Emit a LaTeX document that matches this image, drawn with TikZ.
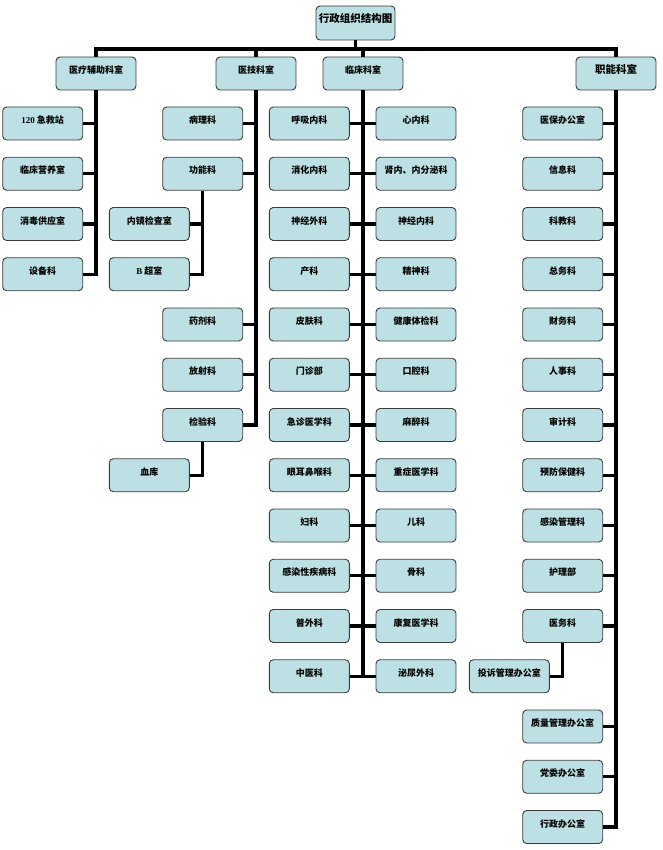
\documentclass[tikz,border=0pt]{standalone}
\usepackage{fontspec}
\setmainfont{Liberation Serif}
\newfontfamily\cjkfont{Noto Sans CJK SC}
\usetikzlibrary{positioning}
\definecolor{deptfill}{RGB}{188,224,227}
\definecolor{deptline}{RGB}{60,60,60}
\begin{document}
\begin{tikzpicture}[x=1pt, y=-1pt,
    every node/.style={font=\cjkfont\bfseries\fontsize{9}{10}\selectfont},
    dept/.style={rectangle, rounded corners=4pt, draw=deptline, line width=0.9pt, fill=deptfill,
      minimum width=80pt, minimum height=33pt, inner sep=1pt, text height=4pt, text depth=4pt, align=center},
    head/.style={dept, font=\cjkfont\bfseries\fontsize{10.5}{12}\selectfont},
    link/.style={line width=3.3pt}]
  \useasboundingbox (0,0) rectangle (662,850);

  \node[head, minimum width=79pt, minimum height=34pt] (title) at (355.5,23) {行政组织结构图};
  \node[dept] (aux) at (96,73.5) {医疗辅助科室};
  \node[dept] (tech) at (256,73.5) {医技科室};
  \node[dept] (clin) at (363,73.5) {临床科室};
  \node[head] (func) at (616,73.5) {职能科室};

  \coordinate (bar) at (0,49);
  \draw[link] (title.south) -- (title.south |- bar);
  \draw[link] (aux.north) |- (func.north |- bar) -- (func.north);
  \draw[link] (tech.north) -- (tech.north |- bar);
  \draw[link] (clin.north) -- (clin.north |- bar);

  % 医疗辅助科室
  \foreach \t [count=\r from 0] in {{\rmfamily 120} 急救站, 临床营养室, 消毒供应室, 设备科} {
    \node[dept] (aux-\r) at (42.7,{123.5+50.25*\r}) {\t};
    \draw[link] (aux.south) |- (aux-\r.east);
  }

  % 医技科室
  \foreach \r/\t in {0/病理科, 1/功能科, 4/药剂科, 5/放射科, 6/检验科} {
    \node[dept] (tech-\r) at (202.7,{123.5+50.25*\r}) {\t};
    \draw[link] (tech.south) |- (tech-\r.east);
  }
  \node[dept] (endo) at (149.3,{123.5+50.25*2}) {内镜检查室};
  \node[dept] (bscan) at (149.3,{123.5+50.25*3}) {{\rmfamily B} 超室};
  \node[dept] (blood) at (149.3,{123.5+50.25*7}) {血库};
  \draw[link] (tech-1.south) |- (endo.east);
  \draw[link] (tech-1.south) |- (bscan.east);
  \draw[link] (tech-6.south) |- (blood.east);

  % 临床科室
  \foreach \t [count=\r from 0] in {呼吸内科, 消化内科, 神经外科, 产科, 皮肤科, 门诊部,
      急诊医学科, 眼耳鼻喉科, 妇科, 感染性疾病科, 普外科, 中医科} {
    \node[dept] (clinL-\r) at (309.3,{123.5+50.25*\r}) {\t};
    \draw[link] (clin.south) |- (clinL-\r.east);
  }
  \foreach \t [count=\r from 0] in {心内科, 肾内、内分泌科, 神经内科, 精神科, 健康体检科, 口腔科,
      麻醉科, 重症医学科, 儿科, 骨科, 康复医学科, 泌尿外科} {
    \node[dept] (clinR-\r) at (416,{123.5+50.25*\r}) {\t};
    \draw[link] (clin.south) |- (clinR-\r.west);
  }

  % 职能科室
  \foreach \r/\t in {0/医保办公室, 1/信息科, 2/科教科, 3/总务科, 4/财务科, 5/人事科, 6/审计科,
      7/预防保健科, 8/感染管理科, 9/护理部, 10/医务科, 12/质量管理办公室, 13/党委办公室, 14/行政办公室} {
    \node[dept] (adm-\r) at (562.7,{123.5+50.25*\r}) {\t};
    \draw[link] (func.south) |- (adm-\r.east);
  }
  \node[dept] (complaint) at (509.3,{123.5+50.25*11}) {投诉管理办公室};
  \draw[link] (adm-10.south) |- (complaint.east);
\end{tikzpicture}
\end{document}
